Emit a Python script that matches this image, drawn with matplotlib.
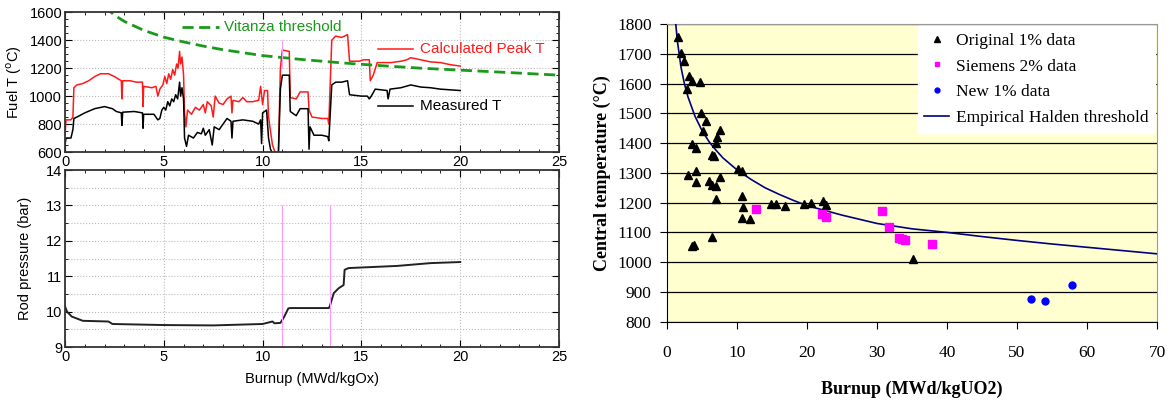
import matplotlib
matplotlib.use("Agg")
import matplotlib.pyplot as plt
from matplotlib.ticker import MultipleLocator
from matplotlib.lines import Line2D

# ---------------- Left-top: fuel temperature ----------------
calc_x = [0.00, 0.05, 0.30, 0.40, 0.45, 0.60, 0.90, 1.20, 1.50, 1.80, 2.20, 2.50, 2.85, 2.88, 2.92,
          3.30, 3.60, 3.92, 3.95, 3.98, 4.40, 4.60, 4.70, 4.80, 4.95, 5.05, 5.15, 5.25, 5.35, 5.45,
          5.55, 5.65, 5.72, 5.80, 5.85, 5.92, 6.00, 6.05, 6.12, 6.20, 6.40, 6.60, 6.80, 7.00, 7.10,
          7.20, 7.40, 7.50, 7.60, 7.80, 8.00, 8.20, 8.40, 8.45, 8.50, 8.80, 9.00, 9.20, 9.50, 9.80,
          9.90, 10.00, 10.10, 10.25, 10.30, 10.50, 10.65, 10.80, 10.90, 11.00, 11.35, 11.40, 11.70,
          11.90, 12.30, 12.35, 12.50, 13.00, 13.30, 13.35, 13.50, 13.70, 14.00, 14.30, 14.40, 14.90,
          15.10, 15.40, 15.45, 15.60, 15.80, 16.50, 17.00, 17.30, 17.50, 18.00, 18.50, 19.00, 19.50, 20.00]
calc_t = [720, 830, 830, 850, 1060, 1080, 1090, 1110, 1140, 1160, 1160, 1140, 1110, 980, 1110,
          1110, 1100, 1100, 925, 1070, 1060, 1070, 1000, 1050, 1080, 1140, 1090, 1160, 1120, 1190,
          1150, 1230, 1200, 1320, 1230, 1280, 1150, 880, 780, 900, 870, 920, 900, 940, 880,
          960, 930, 850, 1000, 950, 940, 980, 1000, 880, 970, 960, 990, 960, 960, 970,
          1070, 940, 1040, 1040, 850, 650, 590, 590, 1200, 1330, 1320, 990, 980,
          1030, 1030, 900, 850, 840, 840, 800, 1400, 1430, 1420, 1440, 1250, 1250,
          1260, 1260, 1110, 1150, 1240, 1240, 1250, 1260, 1275, 1260, 1245, 1240, 1225, 1215]

meas_x = [0.00, 0.05, 0.30, 0.40, 0.45, 0.60, 1.00, 1.50, 2.00, 2.40, 2.60, 2.85, 2.88, 2.92, 3.50,
          3.92, 3.95, 3.98, 4.50, 4.70, 4.80, 4.90, 5.00, 5.10, 5.20, 5.30, 5.40, 5.50, 5.60, 5.70,
          5.80, 5.85, 5.92, 6.00, 6.05, 6.15, 6.25, 6.50, 6.70, 6.90, 7.00, 7.10, 7.30, 7.45, 7.55,
          7.80, 8.00, 8.20, 8.40, 8.45, 8.50, 9.00, 9.50, 9.80, 9.90, 9.95, 10.00, 10.20, 10.30,
          10.40, 10.50, 10.80, 10.90, 11.00, 11.35, 11.40, 11.70, 11.90, 12.30, 12.35, 12.40, 12.60,
          13.00, 13.30, 13.35, 13.50, 13.70, 14.00, 14.30, 14.40, 15.00, 15.30, 15.40, 15.50, 15.70,
          16.30, 16.35, 16.45, 17.00, 17.50, 18.00, 18.50, 19.00, 19.50, 20.00]
meas_t = [650, 700, 700, 760, 840, 850, 880, 910, 925, 910, 890, 880, 790, 885, 890,
          880, 770, 870, 870, 830, 840, 900, 920, 900, 960, 930, 980, 960, 1010, 980,
          1100, 1000, 1060, 980, 700, 640, 720, 700, 740, 730, 770, 720, 760, 650, 780,
          760, 800, 840, 820, 700, 820, 830, 820, 800, 830, 660, 880, 900, 700,
          620, 590, 590, 1050, 1150, 1150, 890, 860, 910, 910, 620, 780, 720,
          720, 710, 680, 1080, 1100, 1100, 1110, 1010, 1000, 1000, 980, 1000, 1050,
          1040, 980, 1050, 1060, 1080, 1065, 1060, 1050, 1045, 1040]

vit_x = [2.0, 2.5, 3.0, 4.0, 5.0, 6.0, 7.0, 8.0, 10.0, 12.0, 14.0, 16.0, 18.0, 20.0, 22.0, 25.0]
vit_t = [1640, 1580, 1535, 1470, 1422, 1388, 1358, 1332, 1290, 1262, 1238, 1218, 1200, 1186, 1172, 1150]

# ---------------- Left-bottom: rod pressure ----------------
pres_x = [0.00, 0.10, 0.34, 0.90, 2.20, 2.40, 5.00, 7.50, 10.00, 10.50, 10.60, 10.90, 11.10, 11.30,
          11.40, 13.35, 13.40, 13.60, 13.85, 14.10, 14.15, 14.35, 16.80, 18.50, 20.00]
pres_p = [10.15, 10.00, 9.86, 9.74, 9.72, 9.65, 9.62, 9.61, 9.65, 9.72, 9.67, 9.68, 9.86, 10.09,
          10.10, 10.10, 10.15, 10.52, 10.66, 10.75, 11.18, 11.23, 11.29, 11.37, 11.40]
event_x = [11.0, 13.4]

# ---------------- Right: central temperature ----------------
orig_x = [1.6, 1.95, 2.4, 3.2, 3.6, 4.7, 2.8, 4.8, 5.5, 5.2, 7.6, 7.2, 7.0, 3.6, 4.1, 6.4, 6.7,
          10.2, 10.7, 3.0, 4.1, 4.1, 6.0, 6.4, 7.0, 7.6, 7.0, 10.7, 10.8, 10.7, 11.9, 14.9, 15.6,
          16.8, 19.6, 20.5, 22.3, 22.7, 3.5, 3.9, 6.4, 35.2]
orig_t = [1757, 1702, 1677, 1625, 1610, 1606, 1582, 1500, 1474, 1441, 1444, 1421, 1399, 1397, 1382,
          1360, 1357, 1312, 1307, 1293, 1307, 1270, 1273, 1259, 1256, 1285, 1212, 1222, 1186, 1147,
          1145, 1194, 1194, 1189, 1194, 1200, 1206, 1192, 1055, 1058, 1084, 1010]
siem_x = [12.7, 22.2, 22.7, 30.7, 31.7, 33.2, 33.6, 34.0, 37.9]
siem_t = [1177, 1162, 1153, 1171, 1119, 1082, 1078, 1074, 1062]
new_x = [52.0, 54.0, 57.9]
new_t = [877, 868, 923]
hald_x = [1.25, 1.5, 2.0, 2.5, 3.0, 4.0, 5.0, 6.0, 7.0, 8.0, 10.0, 12.0, 14.0, 16.0, 18.0, 20.0,
          25.0, 30.0, 35.0, 40.0, 45.0, 50.0, 55.0, 60.0, 65.0, 70.0]
hald_t = [1800, 1740, 1655, 1598, 1555, 1490, 1442, 1405, 1376, 1350, 1310, 1278, 1250, 1228,
          1208, 1190, 1158, 1130, 1112, 1100, 1086, 1073, 1061, 1050, 1039, 1028]

fig = plt.figure(figsize=(11.75, 4.0), dpi=100)

sans = ['Liberation Sans', 'DejaVu Sans']
serif = ['Liberation Serif', 'DejaVu Serif']

def style_left(ax):
    ax.tick_params(which='both', direction='in', top=True, right=True, labelsize=10.5,
                   labelfontfamily='Liberation Sans', pad=2)
    ax.tick_params(which='major', length=5)
    ax.tick_params(which='minor', length=2.5)
    for s in ax.spines.values():
        s.set_linewidth(1.3)
        s.set_color('#333333')

ax1 = fig.add_axes([65/1175, 1-152/400, 494/1175, 139.7/400])
ax1.plot(calc_x, calc_t, color='#ff1a1a', lw=1.1)
ax1.plot(meas_x, meas_t, color='black', lw=1.1)
ax1.plot(vit_x, vit_t, color='#1a9a1a', lw=2.0, dashes=(4, 2))
ax1.vlines([event_x[0]], 1200, 1400, color='#ff99ff', lw=0.8)
ax1.set_xlim(0, 25)
ax1.set_ylim(600, 1600)
ax1.xaxis.set_major_locator(MultipleLocator(5))
ax1.xaxis.set_minor_locator(MultipleLocator(1))
ax1.yaxis.set_major_locator(MultipleLocator(200))
ax1.yaxis.set_minor_locator(MultipleLocator(50))
ax1.grid(True, which='major', color='#bbbbbb', ls=':', lw=0.8)
style_left(ax1)
ax1.set_ylabel('Fuel T ($^{\\mathrm{o}}$C)', family=sans, fontsize=10.5, labelpad=4)
# in-plot labels
ax1.plot([5.9, 7.8], [1497, 1497], color='#1a9a1a', lw=2.0, dashes=(4, 2))
ax1.text(8.05, 1497, 'Vitanza threshold', color='#1a9a1a', family=sans, fontsize=11, va='center')
ax1.plot([15.85, 17.6], [1336, 1336], color='#ff1a1a', lw=1.1)
ax1.text(17.95, 1336, 'Calculated Peak T', color='#ff1a1a', family=sans, fontsize=11, va='center')
ax1.plot([15.85, 17.6], [931, 931], color='black', lw=1.1)
ax1.text(17.95, 931, 'Measured T', color='black', family=sans, fontsize=11, va='center')

ax2 = fig.add_axes([65/1175, 1-347/400, 494/1175, 177/400])
ax2.plot(pres_x, pres_p, color='#222222', lw=1.4)
ax2.vlines(event_x, 9, 13, color='#ff99ff', lw=0.8)
ax2.set_xlim(0, 25)
ax2.set_ylim(9, 14)
ax2.xaxis.set_major_locator(MultipleLocator(5))
ax2.xaxis.set_minor_locator(MultipleLocator(1))
ax2.yaxis.set_major_locator(MultipleLocator(1))
ax2.yaxis.set_minor_locator(MultipleLocator(0.5))
ax2.grid(True, which='both', axis='y', color='#bbbbbb', ls=':', lw=0.8)
ax2.grid(True, which='major', axis='x', color='#bbbbbb', ls=':', lw=0.8)
style_left(ax2)
ax2.set_ylabel('Rod pressure (bar)', family=sans, fontsize=10.5, labelpad=10)
ax2.set_xlabel('Burnup (MWd/kgOx)', family=sans, fontsize=10.5, labelpad=6)

# ---------------- Right axes ----------------
ax3 = fig.add_axes([667/1175, 1-321.7/400, 490/1175, 297.7/400])
ax3.set_facecolor('#ffffd0')
ax3.set_xlim(0, 70)
ax3.set_ylim(800, 1800)
ax3.yaxis.set_major_locator(MultipleLocator(100))
ax3.xaxis.set_major_locator(MultipleLocator(10))
ax3.grid(True, axis='y', color='black', lw=0.9)
ax3.set_axisbelow(True)
ax3.plot(hald_x, hald_t, color='#000080', lw=1.2, label='Empirical Halden threshold', zorder=3)
ax3.plot(orig_x, orig_t, ls='none', marker='^', ms=6, color='black', label='Original 1% data', zorder=4)
ax3.plot(siem_x, siem_t, ls='none', marker='s', ms=5.5, color='#ff00ff', label='Siemens 2% data', zorder=4)
ax3.plot(new_x, new_t, ls='none', marker='o', ms=5, color='#0000ff', label='New 1% data', zorder=4)
ax3.tick_params(direction='out', length=5, labelsize=12.5, labelfontfamily='Liberation Serif')
ax3.tick_params(axis='x', pad=12)
ax3.tick_params(axis='y', pad=6)
for k in ['top', 'right']:
    ax3.spines[k].set_color('#999999')
for k in ['left', 'bottom']:
    ax3.spines[k].set_color('black')
ax3.set_xlabel('Burnup (MWd/kgUO2)', family=serif, fontsize=13, fontweight='bold', labelpad=14)
ax3.set_ylabel('Central temperature (°C)', family=serif, fontsize=13, fontweight='bold', labelpad=4)

handles = [Line2D([], [], ls='none', marker='^', ms=4, color='black'),
           Line2D([], [], ls='none', marker='s', ms=3.5, color='#ff00ff'),
           Line2D([], [], ls='none', marker='o', ms=3.5, color='#0000ff'),
           Line2D([], [], color='#000080', lw=1.2)]
labels = ['Original 1% data', 'Siemens 2% data', 'New 1% data', 'Empirical Halden threshold']
leg = ax3.legend(handles, labels, loc='upper right', bbox_to_anchor=(1.0, 1.0), frameon=True,
                 fancybox=False, framealpha=1, edgecolor='white', facecolor='white',
                 prop={'family': serif, 'size': 12.5}, handlelength=1.4, handletextpad=0.4,
                 borderpad=0.4, labelspacing=0.55, borderaxespad=0.1)

fig.savefig('out.png', dpi=100)
